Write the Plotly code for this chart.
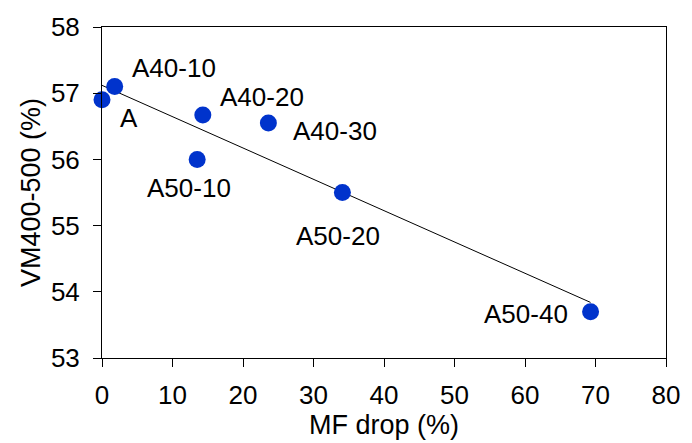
import numpy as np
import plotly.graph_objects as go

names = ["A", "A40-10", "A40-20", "A40-30", "A50-10", "A50-20", "A50-40"]
mf_drop = [0.0, 1.8, 14.3, 23.6, 13.5, 34.1, 69.3]
vm = [56.9, 57.1, 56.67, 56.55, 56.0, 55.5, 53.7]

x_title = "MF drop (%)"
y_title = "VM400-500 (%)"

# label offsets in pixels (style)
label_shift = {
    "A": (27, -18),
    "A40-10": (59, 19),
    "A40-20": (59, 18),
    "A40-30": (67, -8),
    "A50-10": (-8, -29),
    "A50-20": (-4, -43),
    "A50-40": (-65, -2),
}

FONT = "Liberation Sans, Arial, sans-serif"
FS = 26
TFS = 27

slope, intercept = np.polyfit(mf_drop, vm, 1)
xl = np.array([min(mf_drop), max(mf_drop)])
yl = slope * xl + intercept

fig = go.Figure()
fig.add_trace(go.Scatter(x=xl, y=yl, mode="lines",
                         line=dict(color="black", width=1), showlegend=False,
                         hoverinfo="skip"))
fig.add_trace(go.Scatter(x=mf_drop, y=vm, mode="markers",
                         marker=dict(color="#0033CC", size=17),
                         showlegend=False, cliponaxis=False))

for n, x, y in zip(names, mf_drop, vm):
    dx, dy = label_shift[n]
    fig.add_annotation(x=x, y=y, text=n, showarrow=False, xshift=dx, yshift=dy,
                       font=dict(family=FONT, size=FS, color="black"))

fig.update_layout(
    width=692, height=443,
    margin=dict(l=102, r=21, t=26, b=85),
    paper_bgcolor="white", plot_bgcolor="white",
    font=dict(family=FONT, size=FS, color="black"),
)
fig.update_xaxes(range=[0, 80], dtick=10, showgrid=False, zeroline=False,
                 showline=True, linecolor="black", linewidth=1, mirror=True,
                 ticks="outside", ticklen=8, tickcolor="black",
                 ticklabelstandoff=6,
                 title=dict(text=x_title, standoff=0,
                            font=dict(family=FONT, size=TFS, color="black")),
                 tickfont=dict(size=FS))
fig.update_yaxes(range=[53, 58], dtick=1, showgrid=False, zeroline=False,
                 showline=True, linecolor="black", linewidth=1, mirror=True,
                 ticks="outside", ticklen=8, tickcolor="black",
                 ticklabelstandoff=8,
                 title=dict(text=y_title, standoff=2,
                            font=dict(family=FONT, size=TFS, color="black")),
                 tickfont=dict(size=FS))

fig.write_html("out.html")
